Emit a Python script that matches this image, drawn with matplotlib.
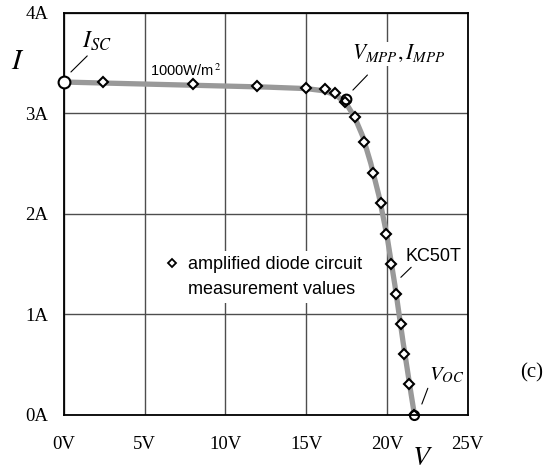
import matplotlib
matplotlib.use("Agg")
import matplotlib.pyplot as plt
from matplotlib.lines import Line2D

plt.rcParams["mathtext.fontset"] = "stix"
plt.rcParams["font.family"] = "Liberation Serif"

# fitted I-V curve of the KC50T module
curve_v = [0, 2.5, 5, 7.5, 10, 12.5, 15, 16, 16.5, 17, 17.5, 18, 18.5, 19, 19.5, 20, 20.5, 21, 21.5, 21.7]
curve_i = [3.31, 3.30, 3.29, 3.28, 3.27, 3.26, 3.245, 3.225, 3.20, 3.16, 3.09, 2.96, 2.77, 2.50, 2.18, 1.78, 1.28, 0.72, 0.20, 0.0]

# measurement points (diamonds)
meas_v = [2.4, 7.97, 11.98, 15.0, 16.19, 16.8, 17.4, 18.0, 18.6, 19.15, 19.6, 19.93, 20.28, 20.57, 20.84, 21.07, 21.38, 21.7]
meas_i = [3.31, 3.29, 3.27, 3.25, 3.24, 3.20, 3.11, 2.96, 2.71, 2.40, 2.11, 1.80, 1.50, 1.20, 0.90, 0.60, 0.31, 0.0]

# special points: short circuit, maximum power point, open circuit
isc = (0.0, 3.31)
mpp = (17.47, 3.14)
voc = (21.7, 0.0)

xticks = [0, 5, 10, 15, 20, 25]
yticks = [0, 1, 2, 3, 4]

fig = plt.figure(figsize=(5.52, 4.72), dpi=100)
ax = fig.add_axes([0.1159, 0.1214, 0.7314, 0.8517])

ax.set_xlim(0, 25)
ax.set_ylim(0, 4)
ax.set_xticks(xticks)
ax.set_yticks(yticks)
ax.set_xticklabels([f"{t}V" for t in xticks], fontsize=13.5)
ax.set_yticklabels([f"{t}A" for t in yticks], fontsize=13.5)
ax.tick_params(length=0)
ax.tick_params(axis="x", pad=15)
ax.tick_params(axis="y", pad=11.5)
ax.grid(True, color="0.3", lw=1.0, zorder=0.5)
ax.set_axisbelow(True)
for s in ax.spines.values():
    s.set_linewidth(1.3)
    s.set_zorder(5)

ax.plot(curve_v, curve_i, color="#999999", lw=3.8, zorder=2, solid_capstyle="butt")
ax.plot(meas_v, meas_i, ls="none", marker="D", ms=5.5, mfc="white", mec="black", mew=1.5, zorder=4)
ax.plot(*isc, marker="o", ms=8.5, mfc="white", mec="black", mew=1.5, zorder=6, clip_on=False)
ax.plot(*mpp, marker="o", ms=7, mfc="none", mec="black", mew=1.5, zorder=6)
ax.plot(*voc, marker="o", ms=6.5, mfc="none", mec="black", mew=1.5, zorder=6, clip_on=False)

line_kw = dict(arrowprops=dict(arrowstyle="-", color="black", lw=0.8, shrinkA=0, shrinkB=0))

# I_SC
ax.annotate("", xy=(0.43, 3.41), xytext=(1.44, 3.57), **line_kw)
ax.text(1.1, 3.65, r"$I_{SC}$", fontsize=17, va="baseline", ha="left")

# 1000 W/m^2
ax.text(5.33, 3.37, r"1000W/m$^{\,2}$", family="Liberation Sans", fontsize=10.5, va="baseline", ha="left")

# MPP
ax.annotate("", xy=(17.89, 3.23), xytext=(18.79, 3.38), **line_kw)
ax.text(17.85, 3.535, r"$V_{MPP}, I_{MPP}$", fontsize=15.5, va="baseline", ha="left",
        bbox=dict(fc="white", ec="none", pad=1), zorder=3)

# KC50T
ax.annotate("", xy=(20.86, 1.367), xytext=(21.5, 1.467), **line_kw)
ax.text(21.13, 1.57, "KC50T", family="Liberation Sans", fontsize=13, va="center", ha="left")

# V_OC
ax.annotate("", xy=(22.16, 0.106), xytext=(22.53, 0.263), **line_kw)
ax.text(22.6, 0.34, r"$V_{OC}$", fontsize=15, va="baseline", ha="left")

# axis letters and panel tag
ax.text(-0.114, 0.877, r"$I$", transform=ax.transAxes, fontsize=21, ha="center", va="center")
ax.text(0.889, -0.108, r"$V$", transform=ax.transAxes, fontsize=20, ha="center", va="center")
ax.text(1.159, 0.103, "(c)", transform=ax.transAxes, fontsize=15, ha="center", va="center")

# legend
h1 = Line2D([], [], ls="none", marker="D", ms=4.5, mfc="white", mec="black", mew=1.3)
h2 = Line2D([], [], ls="none")
leg = ax.legend([h1, h2], ["amplified diode circuit", "measurement values"],
                loc="center left", bbox_to_anchor=(5.95, 1.37), bbox_transform=ax.transData,
                prop={"family": "Liberation Sans", "size": 13}, frameon=True,
                fancybox=False, edgecolor="none", framealpha=1,
                handlelength=0.7, handletextpad=0.55, labelspacing=0.42, borderpad=0.3,
                borderaxespad=0)
leg.set_zorder(3)

fig.savefig("out.png", dpi=100)
